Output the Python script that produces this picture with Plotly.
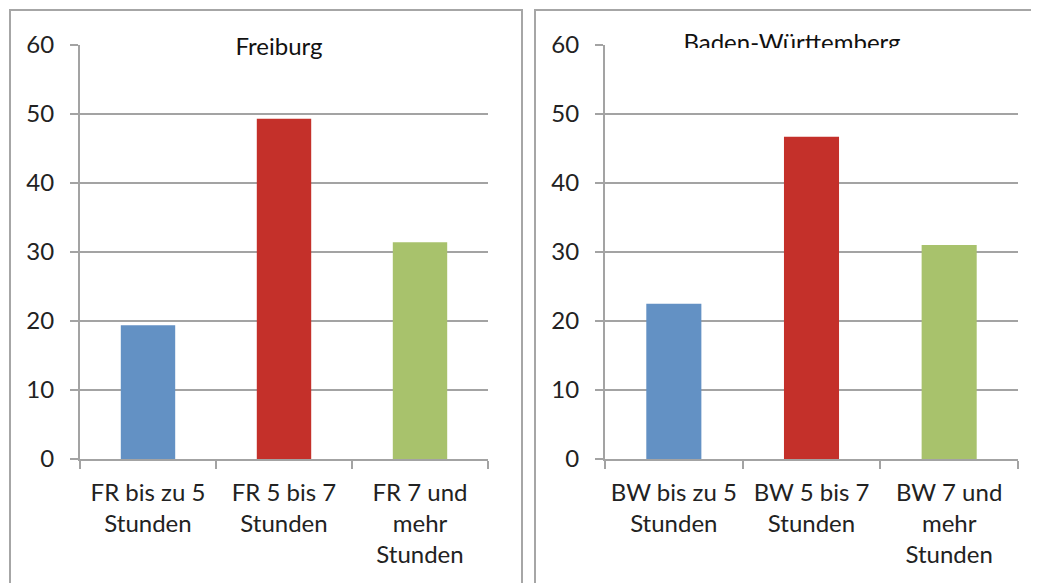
import plotly.graph_objects as go

W, H = 1039, 583
OFF = 8  # page body margin offset

categories_fr = ["FR bis zu 5<br>Stunden", "FR 5 bis 7<br>Stunden", "FR 7 und<br>mehr<br>Stunden"]
values_fr = [19.4, 49.3, 31.4]
categories_bw = ["BW bis zu 5<br>Stunden", "BW 5 bis 7<br>Stunden", "BW 7 und<br>mehr<br>Stunden"]
values_bw = [22.5, 46.7, 31.0]
bar_colors = ["#6391C4", "#C4302A", "#A8C26C"]
y_ticks = [0, 10, 20, 30, 40, 50, 60]

FONT = "Lato"
FS = 24
GRID = "#A3A3A3"

fig = go.Figure()
fig.add_trace(go.Bar(x=categories_fr, y=values_fr, marker=dict(color=bar_colors, line=dict(width=0)),
                     width=0.4, xaxis="x", yaxis="y", showlegend=False))
fig.add_trace(go.Bar(x=categories_bw, y=values_bw, marker=dict(color=bar_colors, line=dict(width=0)),
                     width=0.4, xaxis="x2", yaxis="y2", showlegend=False))


def px_x(v):
    return (v - OFF) / W


def px_y(v):
    return 1 - (v - OFF) / H


xcommon = dict(showgrid=False, showline=True, linecolor=GRID, linewidth=2,
               ticks="outside", tickson="boundaries", ticklen=8, tickcolor=GRID, tickwidth=2,
               ticklabelstandoff=11,
               tickfont=dict(family=FONT, size=FS, color="#222222"), automargin=False,
               fixedrange=True)
ycommon = dict(range=[0, 60], tickvals=y_ticks, showgrid=True, gridcolor=GRID, gridwidth=2,
               showline=True, linecolor=GRID, linewidth=2, zeroline=False,
               ticks="outside", ticklen=8, tickcolor=GRID, tickwidth=2, ticklabelstandoff=11,
               tickfont=dict(family=FONT, size=FS, color="#222222"), automargin=False,
               fixedrange=True)

fig.update_layout(
    width=W, height=H,
    margin=dict(l=0, r=0, t=0, b=0),
    paper_bgcolor="white", plot_bgcolor="white",
    bargap=0.6,
    xaxis=dict(domain=[px_x(80), px_x(488)], anchor="y", **xcommon),
    yaxis=dict(domain=[px_y(459), px_y(45)], anchor="x", **ycommon),
    xaxis2=dict(domain=[px_x(605), px_x(1018)], anchor="y2", **xcommon),
    yaxis2=dict(domain=[px_y(459), px_y(45)], anchor="x2", **ycommon),
    showlegend=False,
)

# panel frames
for x0, x1 in [(10, 522), (535, 1060)]:
    fig.add_shape(type="rect", xref="paper", yref="paper",
                  x0=px_x(x0), x1=px_x(x1), y0=px_y(620), y1=px_y(10),
                  line=dict(color="#A6A6A6", width=2), fillcolor="rgba(0,0,0,0)", layer="below")

# titles (white box covers the top gridline)
fig.add_annotation(text="Freiburg", xref="paper", yref="paper", x=px_x(279), y=px_y(45),
                   xanchor="center", yanchor="middle", showarrow=False,
                   font=dict(family=FONT, size=FS, color="#111111"),
                   bgcolor="white", width=228, height=34)
fig.add_annotation(text="Baden-Württemberg", xref="paper", yref="paper", x=px_x(792), y=px_y(25),
                   xanchor="center", yanchor="top", showarrow=False,
                   font=dict(family=FONT, size=FS, color="#111111"),
                   bgcolor="white", width=362, height=21, valign="top")

fig.write_html("out.html")
